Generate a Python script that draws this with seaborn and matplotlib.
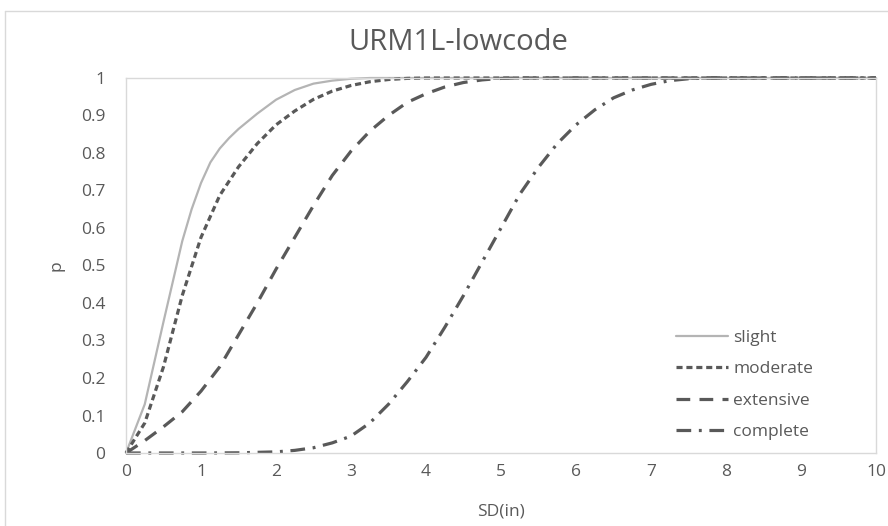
import numpy as np
import pandas as pd
import matplotlib
matplotlib.use("Agg")
import matplotlib.pyplot as plt
from matplotlib.lines import Line2D
import seaborn as sns

# ---- data ----
sd_slight = [0, 0.25, 0.5, 0.75, 0.875, 1.0, 1.125, 1.25, 1.375, 1.5, 1.75, 2.0, 2.25, 2.5, 2.75, 3.0, 3.25, 3.5, 4, 5, 6, 7, 8, 9, 10]
p_slight = [0, 0.13, 0.35, 0.565, 0.65, 0.72, 0.775, 0.812, 0.84, 0.864, 0.905, 0.942, 0.968, 0.985, 0.993, 0.998, 1.0, 1.0, 1, 1, 1, 1, 1, 1, 1]

sd_moderate = [0, 0.25, 0.5, 0.75, 1.0, 1.25, 1.5, 1.75, 2.0, 2.25, 2.5, 2.75, 3.0, 3.25, 3.5, 3.75, 4, 5, 6, 7, 8, 9, 10]
p_moderate = [0, 0.08, 0.23, 0.42, 0.575, 0.687, 0.763, 0.825, 0.875, 0.912, 0.943, 0.965, 0.98, 0.99, 0.996, 0.999, 1, 1, 1, 1, 1, 1, 1]

sd_extensive = [0, 0.25, 0.5, 0.75, 1.0, 1.25, 1.5, 1.75, 2.0, 2.25, 2.5, 2.75, 3.0, 3.25, 3.5, 3.75, 4.0, 4.25, 4.5, 4.75, 5.0, 5.25, 6, 7, 8, 9, 10]
p_extensive = [0, 0.033, 0.07, 0.11, 0.165, 0.23, 0.315, 0.40, 0.49, 0.575, 0.66, 0.74, 0.805, 0.858, 0.9, 0.935, 0.958, 0.976, 0.988, 0.995, 0.999, 1, 1, 1, 1, 1, 1]

sd_complete = [0, 0.5, 1.0, 1.5, 2.0, 2.25, 2.5, 2.75, 3.0, 3.25, 3.5, 3.75, 4.0, 4.25, 4.5, 4.75, 5.0, 5.25, 5.5, 5.75, 6.0, 6.25, 6.5, 6.75, 7.0, 7.25, 7.5, 7.75, 8, 9, 10]
p_complete = [0, 0, 0, 0.0005, 0.003, 0.007, 0.014, 0.027, 0.045, 0.08, 0.13, 0.19, 0.255, 0.335, 0.42, 0.51, 0.6, 0.69, 0.762, 0.825, 0.875, 0.915, 0.947, 0.968, 0.983, 0.993, 0.998, 1, 1, 1, 1]

labels = ["slight", "moderate", "extensive", "complete"]
x_ticks = list(range(0, 11))
y_ticks = [0, 0.1, 0.2, 0.3, 0.4, 0.5, 0.6, 0.7, 0.8, 0.9, 1]
y_tick_labels = ["0", "0.1", "0.2", "0.3", "0.4", "0.5", "0.6", "0.7", "0.8", "0.9", "1"]

# ---- style ----
sns.set_style("white")
plt.rcParams["font.family"] = ["Open Sans", "DejaVu Sans"]
TXT = "#595959"
DARK = "#595959"

W, H = 888, 526
fig = plt.figure(figsize=(W / 100, H / 100), dpi=100)
ax = fig.add_axes([126 / W, 1 - 453 / H, (876 - 126) / W, (453 - 78) / H])

series = [
    (sd_slight, p_slight, dict(color="#b4b4b4", lw=1.6, linestyle="-")),
    (sd_moderate, p_moderate, dict(color=DARK, lw=2.3, linestyle=(0, (1.9, 1.2)))),
    (sd_extensive, p_extensive, dict(color=DARK, lw=2.3, linestyle=(0, (4.3, 2.9)))),
    (sd_complete, p_complete, dict(color=DARK, lw=2.3, linestyle=(0, (4.6, 2.4, 0.9, 2.4)))),
]
for (xs, ys, st), lab in zip(series, labels):
    df = pd.DataFrame({"SD": xs, "p": ys})
    sns.lineplot(data=df, x="SD", y="p", ax=ax, label=lab, clip_on=False, **st)

ax.set_xlim(0, 10)
ax.set_ylim(0, 1)
ax.set_xticks(x_ticks)
ax.set_xticklabels([str(t) for t in x_ticks])
ax.set_yticks(y_ticks)
ax.set_yticklabels(y_tick_labels)
ax.tick_params(axis="both", length=0, labelsize=12.5, labelcolor=TXT)
ax.tick_params(axis="y", pad=15)
ax.tick_params(axis="x", pad=8)
for s in ax.spines.values():
    s.set_color("#d9d9d9")
    s.set_linewidth(1.0)

ax.set_xlabel("SD(in)", fontsize=12.5, color=TXT, labelpad=17)
ax.set_ylabel("p", fontsize=12.5, color=TXT, labelpad=12)

leg = ax.legend(loc="center left", bbox_to_anchor=(676 / W, 1 - 385 / H),
                bbox_transform=fig.transFigure, frameon=False, fontsize=12.5,
                handlelength=3.0, handletextpad=0.3, labelspacing=0.88,
                borderpad=0, borderaxespad=0)
for t in leg.get_texts():
    t.set_color(TXT)

fig.text(458 / W, 1 - 43 / H, "URM1L-lowcode", ha="center", va="center",
         fontsize=21, color=TXT)

# outer chart border (light gray)
fig.add_artist(Line2D([4.5 / W, 4.5 / W], [0, 1 - 10.5 / H], transform=fig.transFigure,
                      color="#d9d9d9", lw=1.0))
fig.add_artist(Line2D([4.5 / W, 1], [1 - 10.5 / H, 1 - 10.5 / H], transform=fig.transFigure,
                      color="#d9d9d9", lw=1.0))

fig.savefig("out.png", dpi=100)
